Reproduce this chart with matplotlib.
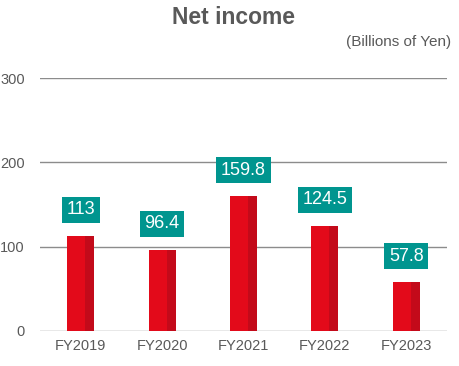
import matplotlib
matplotlib.use("Agg")
import matplotlib.pyplot as plt
import numpy as np

years = ["FY2019", "FY2020", "FY2021", "FY2022", "FY2023"]
net_income = [113, 96.4, 159.8, 124.5, 57.8]
labels = ["113", "96.4", "159.8", "124.5", "57.8"]

RED = "#E30A1A"
DARK_RED = "#C30A1A"
TEAL = "#00958F"
GRAY = "#595959"

plt.rcParams["font.family"] = ["Liberation Sans", "DejaVu Sans"]

fig = plt.figure(figsize=(4.59, 3.66), dpi=100)
ax = fig.add_axes([40 / 459, 1 - 331 / 366, 407 / 459, (331 - 78) / 366])

x = np.arange(len(years))
width = 0.33
side = 0.11
ax.bar(x, net_income, width=width, color=RED, zorder=3)
ax.bar(x + width / 2 - side / 2, net_income, width=side, color=DARK_RED, zorder=4)

# value labels in teal boxes above each bar
for xi, v, lab in zip(x, net_income, labels):
    ax.text(xi, v + 31, lab, ha="center", va="center", fontsize=13, color="white", zorder=5,
            bbox=dict(boxstyle="square,pad=0.25", facecolor=TEAL, edgecolor="none"))

ax.set_xlim(-0.5, 4.5)
ax.set_ylim(0, 300)
ax.set_yticks([0, 100, 200, 300])
ax.set_xticks(x)
ax.set_xticklabels(years)
ax.grid(axis="y", color="#8C8C8C", linewidth=1, zorder=0)
ax.tick_params(length=0, labelsize=10.5, colors=GRAY, pad=6)
ax.tick_params(axis="y", pad=11)
for s in ax.spines.values():
    s.set_visible(False)

fig.text(233 / 459, 1 - 17 / 366, "Net income", ha="center", va="center",
         fontsize=16.5, fontweight="bold", color=GRAY)
fig.text(451 / 459, 1 - 42 / 366, "(Billions of Yen)", ha="right", va="center",
         fontsize=11, color=GRAY)

fig.savefig("out.png", dpi=100)
